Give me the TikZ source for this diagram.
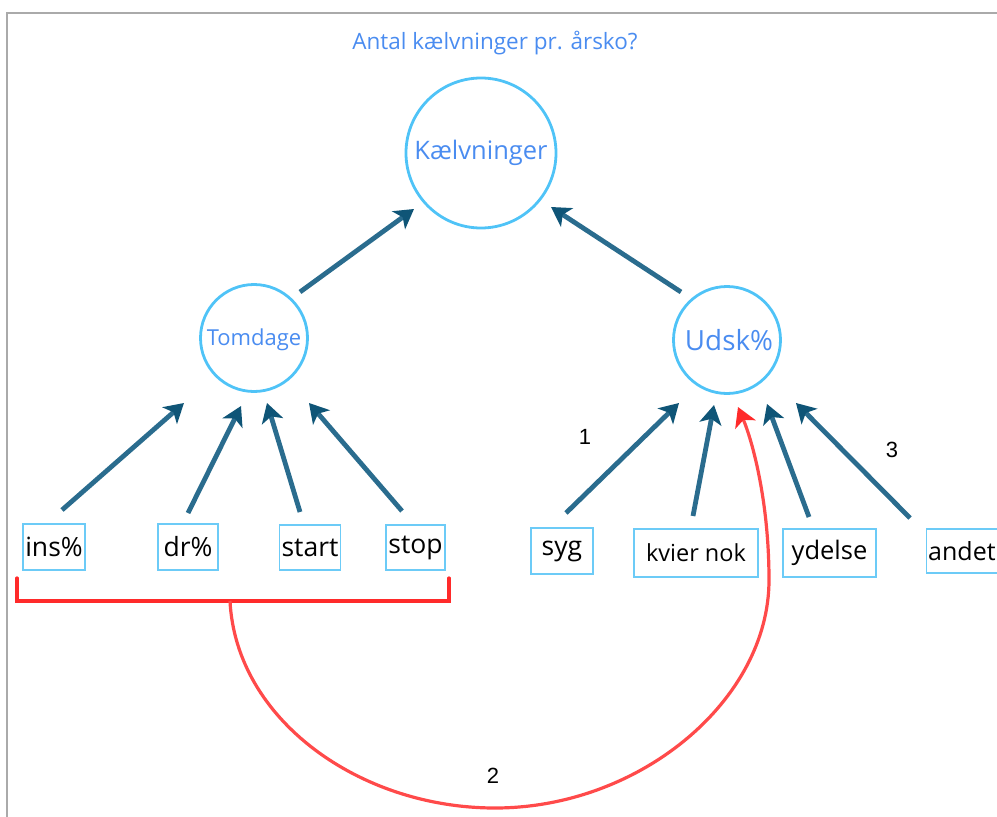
\documentclass[tikz,border=0pt]{standalone}
\usepackage{fontspec}
\setmainfont{Open Sans}
\newfontfamily\numfont{Liberation Sans}
\usetikzlibrary{arrows.meta}
\definecolor{circblue}{HTML}{4FC3F7}
\definecolor{boxblue}{HTML}{6CCBF7}
\definecolor{txtblue}{HTML}{4A8CF0}
\definecolor{arrblue}{HTML}{2A6C8E}
\definecolor{tipblue}{HTML}{0F5577}
\definecolor{redline}{HTML}{FF2A2A}
\definecolor{framegray}{HTML}{AAAAAA}
\begin{document}
\begin{tikzpicture}[x=1pt,y=-1pt,
  circ/.style={circle,draw=circblue,line width=2.8pt,inner sep=0pt},
  lbox/.style={draw=boxblue,line width=1.4pt,inner sep=0pt,text=black},
  bx/.style={lbox,font=\fontsize{26.5}{29}\selectfont},
  uparrow/.style={draw=arrblue,line width=4.8pt,-{Stealth[length=19pt,width=22pt,inset=5pt,fill=tipblue,color=tipblue]}},
  num/.style={font=\numfont\fontsize{22}{24}\selectfont,text=black}]
\useasboundingbox (0,0) rectangle (997,817);
\draw[framegray,line width=2pt] (7,817) -- (7,13) -- (997,13);
\node[text=txtblue,font=\fontsize{22.5}{25}\selectfont] (title) at (495,43) {Antal kælvninger pr. årsko?};
% circles
\node[circ,minimum size=150pt] (kael) at (481,153) {};
\node[text=txtblue,font=\fontsize{25.5}{28}\selectfont] (kaelt) at (481,153) {Kælvninger};
\node[circ,minimum size=107pt] (tom) at (254,338) {};
\node[text=txtblue,font=\fontsize{22}{24}\selectfont] (tomt) at (254,340) {Tomdage};
\node[circ,minimum size=107pt] (udsk) at (727,340) {};
\node[text=txtblue,font=\fontsize{27.8}{30}\selectfont] (udskt) at (729,340) {Udsk\%};
% boxes
\node[bx,minimum width=62pt,minimum height=46pt] (ins) at (54,547) {ins\%};
\node[bx,minimum width=60pt,minimum height=46pt] (dr) at (188,547) {dr\%};
\node[bx,minimum width=61pt,minimum height=45pt] (start) at (310,547.5) {start};
\node[bx,minimum width=59pt,minimum height=45pt] (stop) at (415.5,547.5) {stop};
\node[bx,minimum width=62pt,minimum height=46pt] (syg) at (562,551) {syg};
\node[lbox,font=\fontsize{23.5}{25}\selectfont,minimum width=124pt,minimum height=48pt] (kvier) at (696,553) {kvier nok};
\node[bx,minimum width=93pt,minimum height=48pt,font=\fontsize{25.5}{28}\selectfont] (ydelse) at (829.5,553) {ydelse};
\node[lbox,font=\fontsize{25}{28}\selectfont,minimum width=74pt,minimum height=44pt,anchor=west,align=left,text width=71pt,inner xsep=1.5pt] (andet) at (926,551) {andet};
% arrow end coordinates
\coordinate (tomA) at (300,292); \coordinate (kaelL) at (414,209);
\coordinate (udskA) at (681,292); \coordinate (kaelR) at (551,207);
\coordinate (insA) at (62,510); \coordinate (tom1) at (184,403);
\coordinate (drA) at (188,513); \coordinate (tom2) at (241,406);
\coordinate (startA) at (300,512); \coordinate (tom3) at (267,403);
\coordinate (stopA) at (402,511); \coordinate (tom4) at (309,403);
\coordinate (sygA) at (566,513); \coordinate (udsk1) at (679,403);
\coordinate (kvierA) at (693,516); \coordinate (udsk2) at (714,405);
\coordinate (ydelseA) at (809,517); \coordinate (udsk3) at (767,404);
\coordinate (andetA) at (910,518); \coordinate (udsk4) at (796,403);
\draw[uparrow] (tomA) -- (kaelL);
\draw[uparrow] (udskA) -- (kaelR);
\draw[uparrow] (insA) -- (tom1);
\draw[uparrow] (drA) -- (tom2);
\draw[uparrow] (startA) -- (tom3);
\draw[uparrow] (stopA) -- (tom4);
\draw[uparrow] (sygA) -- (udsk1);
\draw[uparrow] (kvierA) -- (udsk2);
\draw[uparrow] (ydelseA) -- (udsk3);
\draw[uparrow] (andetA) -- (udsk4);
% red bracket and curve
\coordinate (brL) at (17,578); \coordinate (brR) at (449,578);
\coordinate (brM) at (230,601); \coordinate (redEnd) at (738,407);
\coordinate (redBot) at (495,808); \coordinate (redRight) at (769,580);
\draw[redline,line width=3.2pt,line cap=round] (brL) -- (17,601) -- (449,601) -- (brR);
\draw[redline!85!white,line width=3.2pt,-{Stealth[length=19pt,width=22pt,inset=5pt,color=redline,fill=redline]}]
  (brM) .. controls (236,720) and (360,808) .. (redBot)
  .. controls (640,808) and (769,700) .. (redRight)
  .. controls (769,500) and (752,440) .. (redEnd);
% numbers
\node[num] (n1) at (585,437) {1};
\node[num] (n2) at (493,776) {2};
\node[num] (n3) at (892,450) {3};
\end{tikzpicture}
\end{document}
